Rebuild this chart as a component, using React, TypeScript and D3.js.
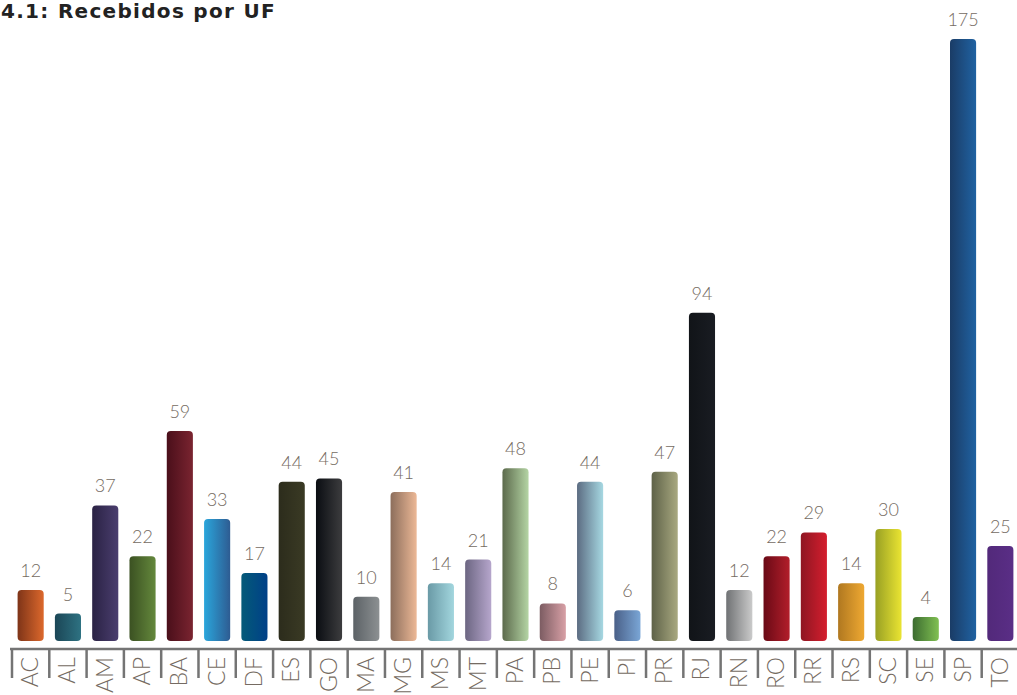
import * as d3 from 'd3'
import React from 'react'

const ufs = ['AC', 'AL', 'AM', 'AP', 'BA', 'CE', 'DF', 'ES', 'GO', 'MA', 'MG', 'MS', 'MT', 'PA', 'PB', 'PE', 'PI', 'PR', 'RJ', 'RN', 'RO', 'RR', 'RS', 'SC', 'SE', 'SP', 'TO']
const recebidos = [12, 5, 37, 22, 59, 33, 17, 44, 45, 10, 41, 14, 21, 48, 8, 44, 6, 47, 94, 12, 22, 29, 14, 30, 4, 175, 25]

// left / right stop of each bar's gradient
const colorsFrom = ['#7e3418', '#1b4656', '#2a2244', '#3b5122', '#4a0f1a', '#2aa6dc', '#045a78', '#2c2c1c', '#0a0d12', '#5c6266', '#8c6e5c', '#6a9aa6', '#6c6682', '#5c6a4c', '#7c5c62', '#5c6c82', '#4a6088', '#5e6248', '#111418', '#707274', '#6a0a16', '#8e1622', '#b07820', '#98a024', '#3c6c30', '#1a3c66', '#52297a']
const colorsTo = ['#dc682c', '#2e7282', '#4a3e6e', '#64883c', '#7a2430', '#2e5c92', '#004088', '#3a3a24', '#3c3c3e', '#8c9092', '#ecb896', '#a2d6de', '#b6a6cc', '#b4d4a4', '#d8a0a6', '#a6d8e2', '#7aa6d6', '#a8a880', '#191c22', '#cacaca', '#b21e2a', '#d41e2e', '#eea832', '#eae432', '#80c052', '#2062a2', '#5a2e86']

const width = 1017
const height = 695
const baseY = 641
const axisY = 649

const x = d3.scaleBand().domain(ufs).range([12, 1019]).paddingInner(0.3).paddingOuter(0.15)
const y = d3.scaleLinear().domain([-3.1, 175]).range([baseY, 39])

const barPath = (x0: number, y0: number, w: number, h: number, r: number) => {
  const p = d3.path()
  p.moveTo(x0 + r, y0)
  p.lineTo(x0 + w - r, y0)
  p.arcTo(x0 + w, y0, x0 + w, y0 + r, r)
  p.lineTo(x0 + w, y0 + h - r)
  p.arcTo(x0 + w, y0 + h, x0 + w - r, y0 + h, r)
  p.lineTo(x0 + r, y0 + h)
  p.arcTo(x0, y0 + h, x0, y0 + h - r, r)
  p.lineTo(x0, y0 + r)
  p.arcTo(x0, y0, x0 + r, y0, r)
  p.closePath()
  return p.toString()
}

const App = () => {
  const step = x.step()
  const ticks = d3.range(ufs.length + 1).map((i) => 12 + i * step)
  const labelColor = '#756b62'

  return (
    <svg width={width} height={height} style={{ position: 'absolute', left: 0, top: 0, background: '#fff' }}>
      <defs>
        {ufs.map((uf, i) => (
          <linearGradient key={uf} id={`g-${uf}`} x1="0" x2="1" y1="0" y2="0">
            <stop offset="0%" stopColor={colorsFrom[i]} />
            <stop offset="100%" stopColor={colorsTo[i]} />
          </linearGradient>
        ))}
      </defs>
      <text x={1} y={18} fontFamily="'DejaVu Sans', sans-serif" fontWeight="bold" fontSize="20" letterSpacing="1.3" fill="#222">
        4.1: Recebidos por UF
      </text>
      {ufs.map((uf, i) => {
        const bx = x(uf) as number
        const top = y(recebidos[i])
        return (
          <g key={uf}>
            <path d={barPath(bx, top, x.bandwidth(), baseY - top, 4)} fill={`url(#g-${uf})`} />
            <text
              x={bx + x.bandwidth() / 2}
              y={top - 13}
              textAnchor="middle"
              fontFamily="Lato, sans-serif"
              fontWeight="300"
              fontSize="18"
              fill={labelColor}
            >
              {recebidos[i]}
            </text>
            <text
              transform={`translate(${bx + x.bandwidth() / 2 + 7.5} ${657}) rotate(-90)`}
              textAnchor="end"
              fontFamily="Lato, sans-serif"
              fontWeight="300"
              fontSize="23"
              fill={labelColor}
            >
              {uf}
            </text>
          </g>
        )
      })}
      <line x1={10} x2={width} y1={axisY} y2={axisY} stroke="#747474" strokeWidth="2.5" />
      {ticks.map((t, i) => (
        <line key={i} x1={t} x2={t} y1={axisY} y2={678} stroke="#747474" strokeWidth="2.5" />
      ))}
    </svg>
  )
}

export default App
